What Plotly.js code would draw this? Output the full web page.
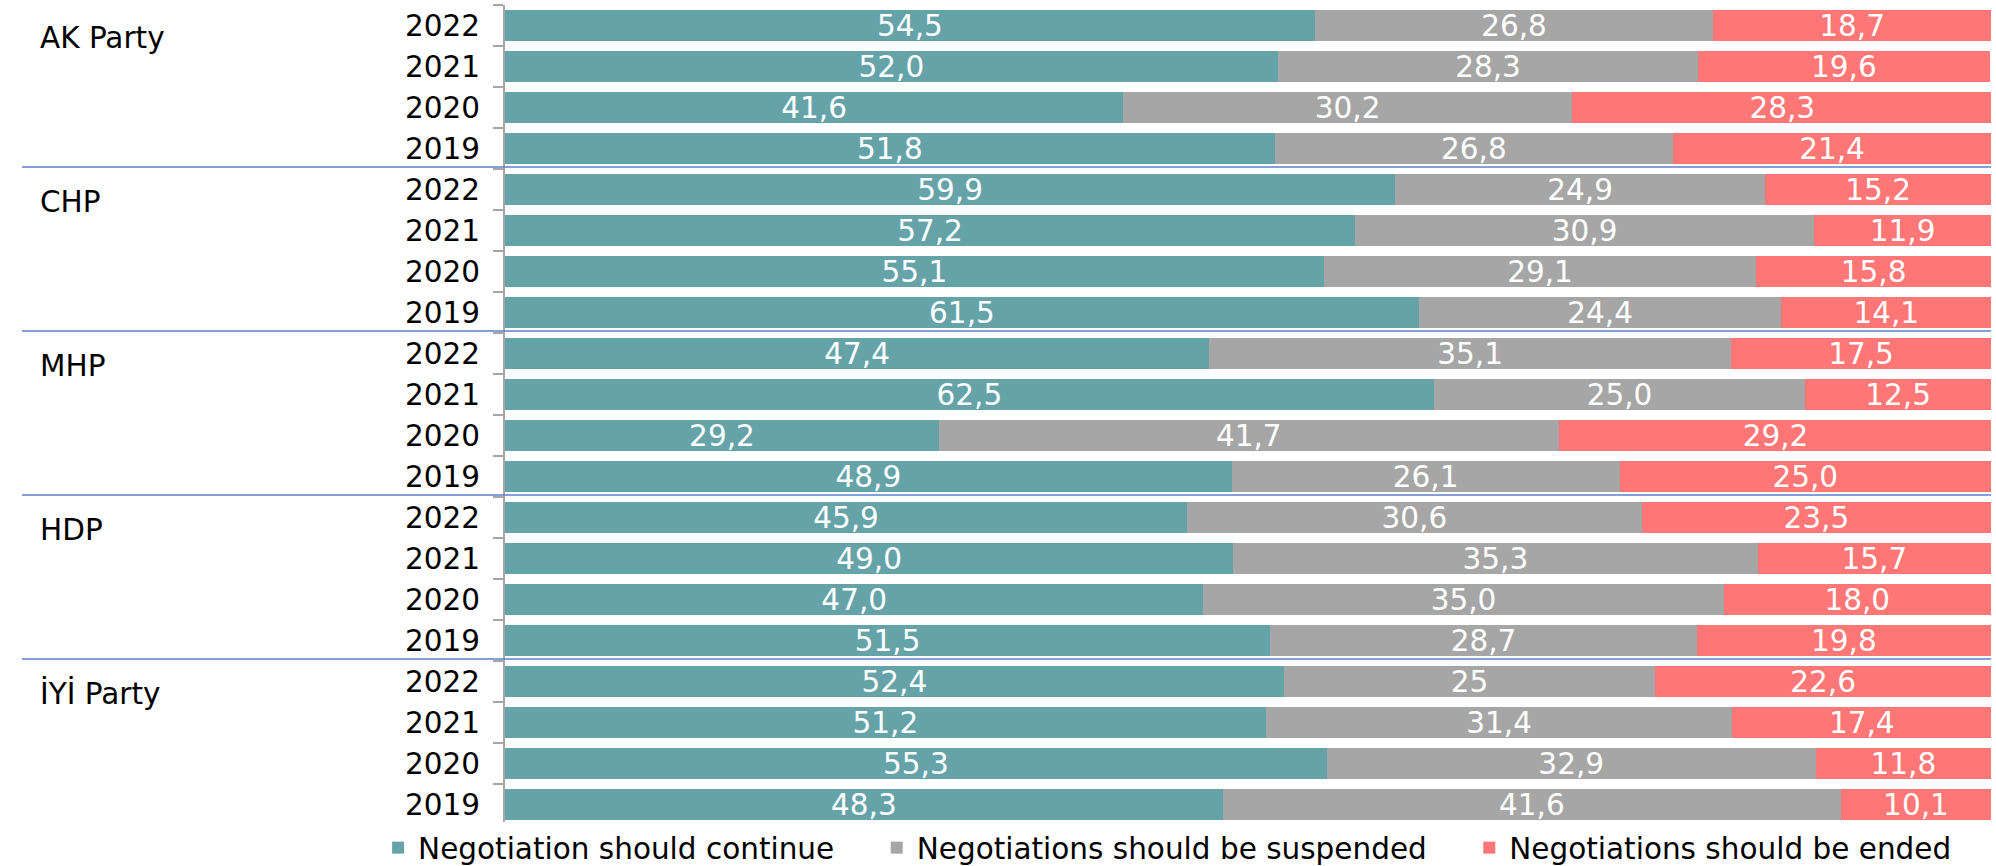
<!DOCTYPE html>
<html>
<head>
<meta charset="utf-8">
<script src="https://cdn.plot.ly/plotly-3.0.1.min.js"></script>
<style>
  html, body { margin: 0; padding: 0; background: #ffffff; }
  #chart { width: 1996px; height: 866px; }
</style>
</head>
<body>
<div id="chart"></div>
<script>
// ---- data (top to bottom) ----
const parties = ["AK Party", "CHP", "MHP", "HDP", "İYİ Party"];
const years = ["2022", "2021", "2020", "2019"];

const shouldContinue = [
  54.5, 52.0, 41.6, 51.8,
  59.9, 57.2, 55.1, 61.5,
  47.4, 62.5, 29.2, 48.9,
  45.9, 49.0, 47.0, 51.5,
  52.4, 51.2, 55.3, 48.3
];
const shouldSuspend = [
  26.8, 28.3, 30.2, 26.8,
  24.9, 30.9, 29.1, 24.4,
  35.1, 25.0, 41.7, 26.1,
  30.6, 35.3, 35.0, 28.7,
  25, 31.4, 32.9, 41.6
];
const shouldEnd = [
  18.7, 19.6, 28.3, 21.4,
  15.2, 11.9, 15.8, 14.1,
  17.5, 12.5, 29.2, 25.0,
  23.5, 15.7, 18.0, 19.8,
  22.6, 17.4, 11.8, 10.1
];
// labels shown without a decimal in the original
const integerLabels = { suspend: [16] };

const seriesNames = [
  "Negotiation should continue",
  "Negotiations should be suspended",
  "Negotiations should be ended"
];
const colors = ["#66A3A9", "#A6A6A6", "#FF7676"];

// ---- build ----
const cats = [];
const tickText = [];
parties.forEach(p => years.forEach(y => { cats.push(p + " " + y); tickText.push(y); }));

function fmt(arr, intIdx) {
  return arr.map((v, i) => (intIdx && intIdx.indexOf(i) >= 0) ? String(Math.round(v)) : v.toFixed(1).replace(".", ","));
}

const FONT = "DejaVu Sans, Verdana, sans-serif";
const FS = 29.5;
const NB = "\u00a0";
const legendPad = [NB.repeat(4), NB.repeat(4), ""];
const seriesVals = [shouldContinue, shouldSuspend, shouldEnd];
const seriesInt = [null, integerLabels.suspend, null];

const traces = seriesVals.map((vals, k) => ({
  type: "bar",
  orientation: "h",
  name: seriesNames[k] + legendPad[k],
  y: cats,
  x: vals,
  text: fmt(vals, seriesInt[k]),
  textposition: "inside",
  insidetextanchor: "middle",
  constraintext: "none",
  textfont: { family: FONT, size: FS, color: "#ffffff" },
  marker: { color: colors[k], line: { width: 0 } },
  hoverinfo: "skip"
}));

const shapes = [];
for (let g = 1; g < parties.length; g++) {
  shapes.push({
    type: "line", xref: "paper", yref: "y",
    x0: -0.325, x1: 1, y0: g * years.length - 0.55, y1: g * years.length - 0.55,
    line: { color: "#5B7FCB", width: 1.5 }
  });
}

const annotations = parties.map((p, g) => ({
  text: p, xref: "paper", yref: "y",
  x: -0.3143, y: g * years.length,
  xanchor: "left", yanchor: "middle", yshift: -12,
  showarrow: false,
  font: { family: FONT, size: FS, color: "#000000" }
}));

const layout = {
  width: 1996, height: 866,
  margin: { l: 505, r: 5, t: 5, b: 41, autoexpand: false },
  paper_bgcolor: "#ffffff", plot_bgcolor: "#ffffff",
  barmode: "stack",
  bargap: 0.244,
  showlegend: true,
  legend: {
    orientation: "h", x: -0.0854, xanchor: "left", y: -0.028, yanchor: "middle",
    font: { family: FONT, size: FS, color: "#000000" },
    traceorder: "normal", itemclick: false
  },
  xaxis: { range: [0, 100], visible: false, fixedrange: true },
  yaxis: {
    type: "category",
    categoryorder: "array", categoryarray: cats,
    tickmode: "array", tickvals: cats, ticktext: tickText,
    range: [cats.length - 0.5, -0.5],
    autorange: false,
    showline: true, linecolor: "#A6A6A6", linewidth: 2,
    ticks: "outside", tickson: "boundaries", ticklen: 10, tickwidth: 1.5, tickcolor: "#A6A6A6",
    ticklabelstandoff: 17,
    showgrid: false, zeroline: false,
    tickfont: { family: FONT, size: FS, color: "#000000" },
    fixedrange: true
  },
  shapes: shapes,
  annotations: annotations,
  font: { family: FONT }
};

Plotly.newPlot("chart", traces, layout, { displayModeBar: false, staticPlot: true });
</script>
</body>
</html>
